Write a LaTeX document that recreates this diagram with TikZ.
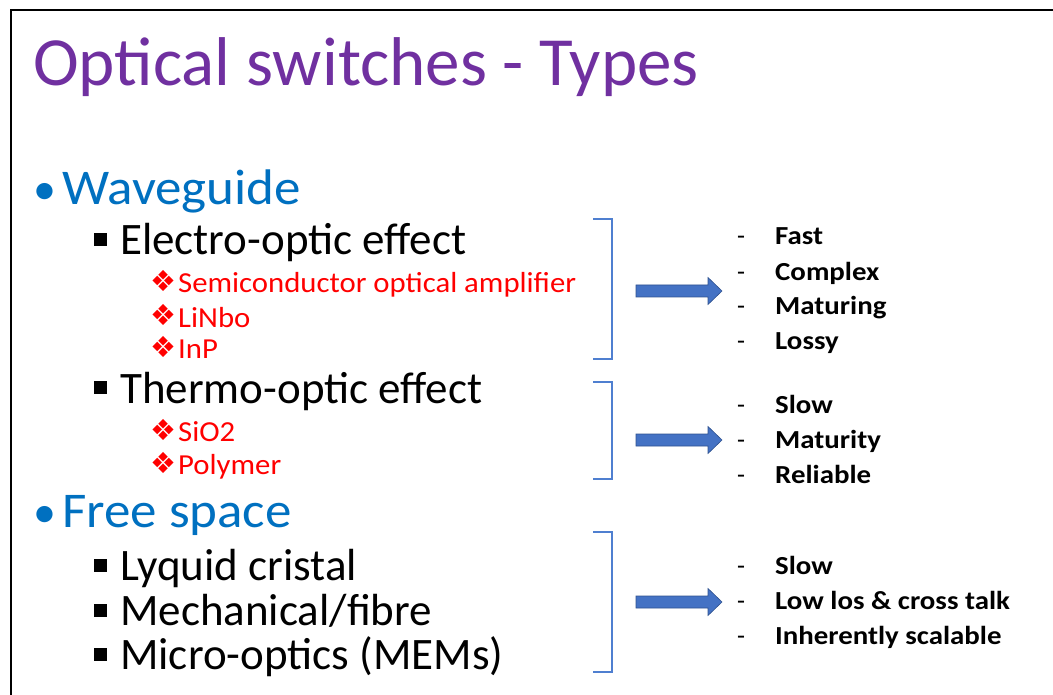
\documentclass[tikz,border=0pt]{standalone}
\usepackage{fontspec}
\setmainfont{Carlito}
\newfontfamily\dingfont{DejaVu Sans}
\newfontfamily\hdfont[FakeStretch=1.06]{Carlito}
\newfontfamily\lffont[FakeStretch=1.06]{Carlito}
\newfontfamily\profont[FakeStretch=1.11]{Carlito}
\usetikzlibrary{positioning}
\definecolor{ttl}{HTML}{7030A0}
\definecolor{hed}{HTML}{0070C0}
\definecolor{itm}{HTML}{FF0000}
\definecolor{brk}{HTML}{4F7FD0}
\definecolor{arw}{HTML}{4472C4}
\definecolor{arwd}{HTML}{2F528F}
\newcommand{\fsz}[1]{\fontsize{#1}{#1}\selectfont}

\begin{document}
\begin{tikzpicture}[x=1pt, y=-1pt,
  txt/.style={anchor=base west, inner sep=0pt, font=\fsz{#1}},
  hd/.style={anchor=base west, inner sep=0pt, font=\hdfont\fsz{50}, text=hed},
  sub/.style={txt=45},
  lf/.style={anchor=base west, inner sep=0pt, font=\lffont\fsz{29}, text=itm},
  ding/.style={anchor=base west, inner sep=0pt, font=\dingfont\fsz{29}, text=itm},
  pro/.style={anchor=base west, inner sep=0pt, font=\profont\fsz{26}\bfseries},
  sq/.style={fill=black, minimum size=13pt, inner sep=0pt},
  brace/.style={draw=brk, line width=1.3pt},
  blk/.style={fill=arw, draw=arwd, line width=0.6pt}]
\useasboundingbox (0,0) rectangle (1053,695);
% slide frame
\draw[line width=2pt] (11,695) -- (11,10) -- (1053,10);
\node[txt=69, text=ttl] (title) at (33,86) {Optical switches - Types};
% left column
\node[txt=46, text=hed] (d1) at (33,205) {•};
\node[hd] (wg) at (62,205) {Waveguide};
\node[sq] (s1) at (100.5,239.5) {};
\node[sub] (eo) at (120,255) {Electro-optic effect};
\foreach \y/\t/\n in {293/Semiconductor optical amplifier/soa, 327/LiNbo/lin,
    358/InP/inp, 441/SiO2/sio, 474/Polymer/pol}{
  \node[ding] (dg\n) at (150,\y-1) {\char"2756};
  \node[lf] (\n) at (178,\y) {\t};
}
\node[sq] (s2) at (100.5,387.5) {};
\node[sub] (to) at (120,403) {Thermo-optic effect};
\node[txt=46, text=hed] (d2) at (33,527) {•};
\node[hd] (fs) at (62,527) {Free space};
\node[sq] (s3) at (100.5,565) {};
\node[sub] (lc) at (120,580) {Lyquid cristal};
\node[sq] (s4) at (100.5,610) {};
\node[sub] (mf) at (120,625) {Mechanical/fibre};
\node[sq] (s5) at (100.5,654) {};
\node[sub] (mo) at (120,669) {Micro-optics (MEMs)};
% brackets with block arrows
\foreach \top/\bot/\mid in {219/359/291, 382/479/440, 532/672/602}{
  \draw[brace] (593,\top) -- (612,\top) -- (612,\bot) -- (593,\bot);
  \draw[blk] (636,\mid-6) -- (708,\mid-6) -- (708,\mid-13.5) -- (722,\mid)
    -- (708,\mid+13.5) -- (708,\mid+6) -- (636,\mid+6) -- cycle;
}
% right column
\foreach \y/\t [count=\i] in {245/Fast, 280/Complex, 315/Maturing, 349/Lossy,
    413/Slow, 448/Maturity, 483/Reliable,
    574/Slow, 609/Low los \& cross talk, 644/Inherently scalable}{
  \node[txt=26] (dash\i) at (737,\y) {-};
  \node[pro] (pt\i) at (775,\y) {\t};
}
\end{tikzpicture}
\end{document}
